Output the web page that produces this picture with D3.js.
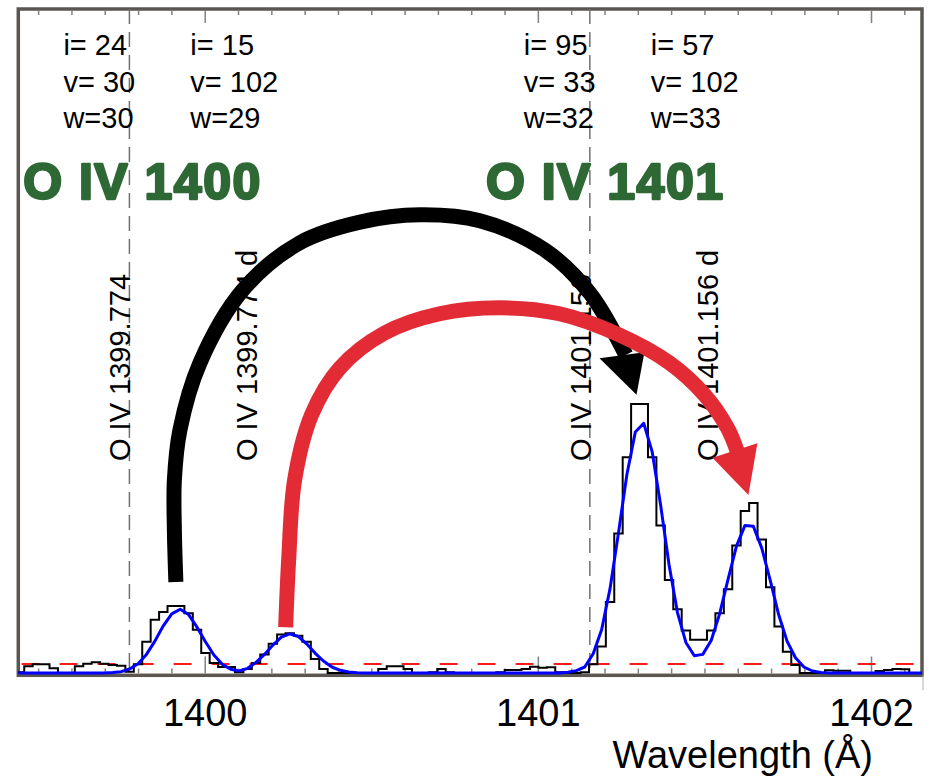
<!DOCTYPE html>
<html>
<head>
<meta charset="utf-8">
<script src="https://cdn.jsdelivr.net/npm/d3@7"></script>
<style>
  body { margin: 0; background: #fff; }
  svg { display: block; font-family: 'Liberation Sans', Arial, Helvetica, sans-serif; }
</style>
</head>
<body>
<div id="chart"></div>
<script>
// spectral bins (Angstrom): left edge of the first bin and bin width
const binStart = 1399.4077
const binWidth = 0.0253

// observed intensity per bin
const counts = [
  0.1, 0.1, 1.0, 1.3, 1.3, 0.7, 0, 0, 1.0, 1.4,
  1.6, 1.4, 1.2, 1.1, 0.2, 1.3, 4.7, 8.0, 9.2, 10.1,
  10.1, 9.0, 6.5, 3.0, 1.5, 0.9, 0.9, 0.1, 0.6, 1.5,
  2.8, 4.4, 5.8, 6.0, 5.6, 4.7, 2.1, 0.6, 0, 0,
  0, 0, 0, 0, 0.6, 1.0, 1.0, 0.6, 0, 0,
  0.1, 0.6, 0.1, 0, 0, 0, 0, 0, 0.1, 0.45,
  0.45, 0.6, 0.95, 0.8, 0.85, 0.1, 0, 0, 0.1, 1.3,
  4.0, 10.7, 21.0, 32.5, 40.5, 40.5, 32.5, 22.2, 14.0, 9.6,
  6.4, 5.0, 5.0, 6.4, 9.0, 12.6, 19.2, 24.4, 25.6, 20.1,
  12.9, 7.0, 3.2, 1.2, 0, 0, 0, 0.4, 0.35, 0.35,
  0, 0, 0, 0.3, 0.45, 0.6, 0.55, 0, 0,
]

// fitted profile, sampled at bin centres
const fit = [
  0, 0, 0, 0, 0, 0, 0, 0, 0, 0,
  0, 0, 0.07, 0.2, 0.6, 1.4, 2.8, 4.8, 7.1, 8.9,
  9.6, 8.8, 6.9, 4.7, 2.7, 1.3, 0.55, 0.3, 0.7, 1.6,
  2.8, 4.2, 5.4, 5.9, 5.5, 4.4, 3.0, 1.8, 0.9, 0.4,
  0.14, 0.04, 0, 0, 0, 0, 0, 0, 0, 0,
  0, 0, 0, 0, 0, 0, 0, 0, 0, 0,
  0, 0, 0, 0, 0, 0, 0.1, 0.35, 0.9, 2.9,
  6.5, 12.7, 21.1, 29.9, 36.3, 37.6, 33.3, 25.3, 16.3, 9.1,
  4.6, 2.6, 2.8, 4.9, 8.9, 14.1, 19.1, 22.2, 22.1, 18.8,
  14.0, 8.8, 4.8, 2.3, 0.9, 0.3, 0.07, 0, 0, 0,
  0, 0, 0, 0, 0, 0, 0, 0, 0,
]

const continuum = 1.36

// line identifications and fit results
const lineWavelengths = [1399.774, 1400.155, 1401.156, 1401.537]
const lineNames = ['O IV 1399.774', 'O IV 1399.774 d', 'O IV 1401.156', 'O IV 1401.156 d']
const lineDashed = [true, false, true, false]
const lineI = [24, 15, 95, 57]
const lineV = [30, 102, 33, 102]
const lineW = [30, 29, 32, 33]

const ionNames = ['O IV 1400', 'O IV 1401']
const ionWavelengths = [1399.452, 1400.841]

const majorTicks = [1400, 1401, 1402]

// arrows, in (wavelength, intensity)
const blackShaft = [
  [1399.9135, 13.7], [1399.909, 21.5], [1399.909, 29.1], [1399.9256, 36.6],
  [1399.9856, 46.7], [1400.1147, 57.7], [1400.2858, 64.8], [1400.466, 67.9],
  [1400.646, 69.0], [1400.826, 68.1], [1401.021, 63.7], [1401.156, 57.2],
  [1401.264, 47.9],
]
const blackHead = [[1401.185, 47.4], [1401.32, 48.3], [1401.296, 41.9]]
const redShaft = [
  [1400.243, 6.9], [1400.252, 17.0], [1400.27, 29.1], [1400.321, 38.9],
  [1400.405, 45.9], [1400.54, 51.2], [1400.705, 54.1], [1400.885, 55.0],
  [1401.065, 54.1], [1401.245, 50.9], [1401.395, 46.7], [1401.5, 41.9],
  [1401.569, 36.9], [1401.599, 33.3],
]
const redHead = [[1401.524, 32.4], [1401.659, 34.6], [1401.632, 26.8]]

const W = 930
const H = 780
const plot = {left: 18.3, right: 922, top: 9, bottom: 675.3}

const x = d3.scaleLinear().domain([1399.4405, 1402.153]).range([plot.left, plot.right])
const y = d3.scaleLinear().domain([-0.35, 100]).range([plot.bottom, plot.top])

const svg = d3.select('#chart')
  .append('svg')
  .attr('width', W)
  .attr('height', H)

svg.append('defs')
  .append('clipPath')
  .attr('id', 'clip')
  .append('rect')
  .attr('x', plot.left)
  .attr('y', plot.top)
  .attr('width', plot.right - plot.left)
  .attr('height', plot.bottom - plot.top)

// frame
svg.append('rect')
  .attr('x', plot.left)
  .attr('y', plot.top)
  .attr('width', plot.right - plot.left)
  .attr('height', plot.bottom - plot.top)
  .attr('fill', 'none')
  .attr('stroke', '#5b5651')
  .attr('stroke-width', 3.5)

svg.append('line')
  .attr('x1', plot.right + 1).attr('x2', plot.right + 1)
  .attr('y1', plot.bottom).attr('y2', plot.bottom + 15)
  .attr('stroke', '#b0b0b0')
  .attr('stroke-width', 1)

// ticks
const minorTicks = x.ticks(27).filter(t => !majorTicks.includes(+t.toFixed(1)))
const styleTicks = g => {
  g.select('.domain').remove()
  g.selectAll('.tick line').attr('stroke', '#808080').attr('stroke-width', 1.5)
}

svg.append('g')
  .attr('transform', `translate(0,${plot.top + 1})`)
  .call(d3.axisTop(x).tickValues(minorTicks).tickSize(-5).tickFormat(''))
  .call(styleTicks)
svg.append('g')
  .attr('transform', `translate(0,${plot.top + 1})`)
  .call(d3.axisTop(x).tickValues(majorTicks).tickSize(-13).tickFormat(''))
  .call(styleTicks)
svg.append('g')
  .attr('transform', `translate(0,${plot.bottom - 1.8})`)
  .call(d3.axisBottom(x).tickValues(minorTicks).tickSize(-5).tickFormat(''))
  .call(styleTicks)
svg.append('g')
  .attr('transform', `translate(0,${plot.bottom - 1.8})`)
  .call(d3.axisBottom(x).tickValues(majorTicks).tickSize(-17).tickPadding(26).tickFormat(d3.format('d')))
  .call(styleTicks)
  .call(g => g.selectAll('.tick text')
    .attr('fill', '#000')
    .style('font-size', '38px')
    .style('font-family', "'Liberation Sans', Arial, Helvetica, sans-serif"))

svg.append('text')
  .attr('x', 873)
  .attr('y', 768)
  .attr('text-anchor', 'end')
  .style('font-size', '38px')
  .text('Wavelength (Å)')

const marks = svg.append('g').attr('clip-path', 'url(#clip)')

// line markers
marks.selectAll('.line-marker')
  .data(lineWavelengths.filter((d, i) => lineDashed[i]))
  .join('line')
  .attr('class', 'line-marker')
  .attr('x1', d => x(d)).attr('x2', d => x(d))
  .attr('y1', plot.top).attr('y2', plot.bottom)
  .attr('stroke', '#707070')
  .attr('stroke-width', 1.5)
  .attr('stroke-dasharray', '15,8')

// continuum level
marks.append('line')
  .attr('x1', plot.left).attr('x2', plot.right)
  .attr('y1', y(continuum)).attr('y2', y(continuum))
  .attr('stroke', '#ff1a1a')
  .attr('stroke-width', 2)
  .attr('stroke-dasharray', '18,20')
  .attr('stroke-dashoffset', -3.3)

// observed spectrum as a histogram
const edges = counts.map((c, i) => [binStart + i * binWidth, c])
edges.push([binStart + counts.length * binWidth, counts[counts.length - 1]])

marks.append('path')
  .datum(edges)
  .attr('fill', 'none')
  .attr('stroke', '#000')
  .attr('stroke-width', 2)
  .attr('d', d3.line().x(d => x(d[0])).y(d => y(d[1])).curve(d3.curveStepAfter))

marks.append('path')
  .datum(fit.map((f, i) => [binStart + (i + 0.5) * binWidth, f]))
  .attr('fill', 'none')
  .attr('stroke', '#0000ff')
  .attr('stroke-width', 3)
  .attr('stroke-linejoin', 'round')
  .attr('d', d3.line().x(d => x(d[0])).y(d => y(d[1])))

// labels
const annot = svg.append('g').style('font-size', '29px')

lineWavelengths.forEach((lam, i) => {
  const lx = x(lam)
  annot.append('text')
    .attr('transform', `translate(${lx + 1},461) rotate(-90)`)
    .text(lineNames[i])

  const block = annot.append('text').attr('x', lx - 66)
  ;[`i= ${lineI[i]}`, `v= ${lineV[i]}`, `w=${lineW[i]}`].forEach((s, j) => {
    block.append('tspan')
      .attr('x', lx - 66)
      .attr('y', 55 + j * 36.5)
      .text(s)
  })
})

// heavy green ion labels (stroke thickens the bold face)
svg.selectAll('.ion')
  .data(ionNames)
  .join('text')
  .attr('class', 'ion')
  .attr('x', (d, i) => x(ionWavelengths[i]) + 1)
  .attr('y', 199)
  .attr('fill', '#2e6834')
  .attr('stroke', '#2e6834')
  .attr('stroke-width', 2.5)
  .attr('stroke-linejoin', 'round')
  .style('font-size', '50px')
  .style('font-weight', 'bold')
  .style('letter-spacing', '1.5px')
  .text(d => d)

// arrows
const arrowLine = d3.line()
  .x(d => x(d[0]))
  .y(d => y(d[1]))
  .curve(d3.curveCatmullRom.alpha(0.5))

const drawArrow = (shaft, head, color) => {
  const g = svg.append('g')
  g.append('path')
    .datum(shaft)
    .attr('fill', 'none')
    .attr('stroke', color)
    .attr('stroke-width', 15)
    .attr('d', arrowLine)
  g.append('path')
    .datum(head)
    .attr('fill', color)
    .attr('d', d => `M${d.map(p => [x(p[0]), y(p[1])]).join('L')}Z`)
}

drawArrow(blackShaft, blackHead, '#000')
drawArrow(redShaft, redHead, '#e32b35')
</script>
</body>
</html>
